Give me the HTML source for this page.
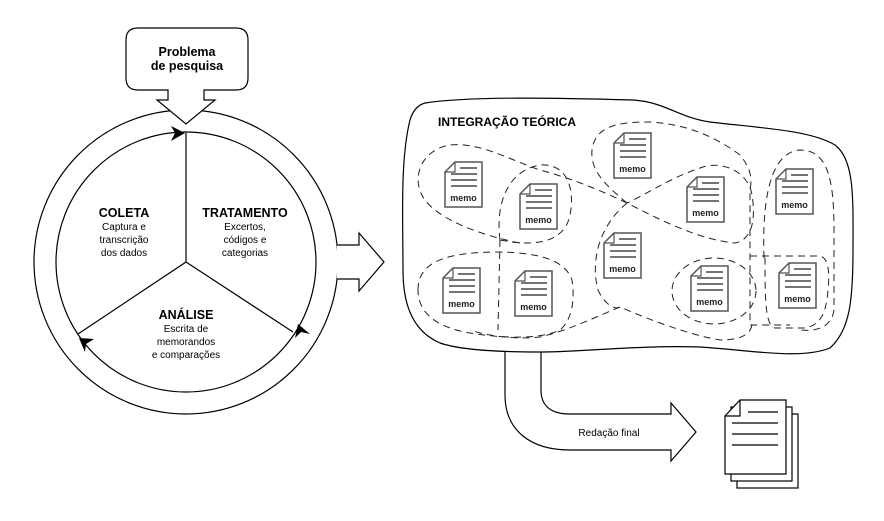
<!DOCTYPE html>
<html><head><meta charset="utf-8">
<style>
html,body{margin:0;padding:0;background:#fff;}
svg{display:block;font-family:"Liberation Sans",sans-serif;}
</style></head>
<body>
<svg width="884" height="521" viewBox="0 0 884 521" xmlns="http://www.w3.org/2000/svg">
<defs>
<g id="doc">
<path d="M10,0 H37 V45 H0 V10 Z" fill="#fff" stroke="#555" stroke-width="1.5"/>
<path d="M0,10 H10 V0" fill="none" stroke="#555" stroke-width="1.2"/>
<path d="M15,6 H32 M6,12 H32 M6,18 H32 M6,24 H32" stroke="#222" stroke-width="1.2"/>
</g>
</defs>

<!-- Outer ring -->
<circle cx="186" cy="262" r="152" fill="#fff" stroke="#000" stroke-width="1.2"/>
<!-- right arrow -->
<path d="M337,245 H359 V233 L384,262 L359,291 V279 H337" fill="#fff" stroke="#000" stroke-width="1.2"/>
<circle cx="186" cy="262" r="130" fill="#fff" stroke="#000" stroke-width="1.2"/>

<!-- Spokes -->
<path d="M186,133 V262 L78,334 M186,262 L293,332" stroke="#000" stroke-width="1.2" fill="none"/>
<!-- arrowheads -->
<path d="M185,133 L171,126 L175,133 L171,141 Z" fill="#000"/>
<path d="M298,324 L295,338 L301,332 L310,334 Z" fill="#000"/>
<path d="M79,338 L85,352 L86,344 L94,339 Z" fill="#000"/>

<!-- Problem box + arrow -->
<path d="M138,28 H236 Q248,28 248,40 V78 Q248,90 236,90 H204 V100 H215 L186,124 L157,100 H168 V90 H138 Q126,90 126,78 V40 Q126,28 138,28 Z" fill="#fff" stroke="#000" stroke-width="1.2"/>
<text x="187" y="56" font-size="12.5" font-weight="bold" text-anchor="middle">Problema</text>
<text x="187" y="70" font-size="12.5" font-weight="bold" text-anchor="middle">de pesquisa</text>

<!-- Circle labels -->
<g text-anchor="middle" font-size="10">
<text x="124" y="217" font-size="12.5" font-weight="bold">COLETA</text>
<text x="124" y="230">Captura e</text>
<text x="124" y="243">transcrição</text>
<text x="124" y="256">dos dados</text>
<text x="245" y="217" font-size="12.5" font-weight="bold">TRATAMENTO</text>
<text x="245" y="230">Excertos,</text>
<text x="245" y="243">códigos e</text>
<text x="245" y="256">categorias</text>
<text x="186" y="319" font-size="12.5" font-weight="bold">ANÁLISE</text>
<text x="186" y="332">Escrita de</text>
<text x="186" y="345">memorandos</text>
<text x="186" y="358">e comparações</text>
</g>

<!-- Bottom arrow -->
<path d="M505,350 V395 C505,430 530,450 570,450 H671 V461 L696,432 L671,403 V414 H570 C550,414 541,405 541,390 V350" fill="#fff" stroke="#000" stroke-width="1.2"/>
<text x="609" y="436" font-size="10" text-anchor="middle">Redação final</text>

<!-- Blob -->
<path d="M425,103 C470,96 560,98 633,100 C665,102 680,118 710,122 C760,128 810,130 835,145 C855,160 853,200 853,250 C853,300 850,330 830,348 C800,360 750,350 700,347 C640,345 580,352 540,352 C500,352 460,350 440,343 C410,330 403,300 403,270 C403,220 400,160 410,120 C413,110 418,105 425,103 Z" fill="#fff" stroke="#000" stroke-width="1.2"/>
<text x="438" y="126" font-size="12" font-weight="bold">INTEGRAÇÃO TEÓRICA</text>

<!-- dashed loops -->
<g fill="none" stroke="#222" stroke-width="1" stroke-dasharray="7,5">
<path d="M520,243 C480,235 440,220 425,200 C410,180 420,150 450,145 C480,142 510,160 540,170 C570,178 600,190 627,203 C660,220 700,240 735,243 C752,240 756,220 752,195 C748,170 720,160 700,168 C670,178 645,195 627,203"/>
<path d="M627,203 C605,185 590,170 592,150 C595,125 620,122 650,122 C690,124 720,140 740,155 C752,170 752,180 750,190 L750,325 L790,325"/>
<path d="M627,203 C600,225 590,260 598,290 C605,305 615,310 620,307 C650,320 690,335 720,340 C740,340 750,335 752,325"/>
<path d="M620,307 C600,315 570,330 540,337 C510,340 485,335 470,330"/>
<path d="M500,240 C495,200 510,170 540,165 C568,163 575,190 570,215 C565,240 540,248 500,240 Z M500,240 L498,330"/>
<path d="M418,290 C418,260 450,252 500,252 C540,253 565,260 572,280 C575,300 572,320 560,330 C540,340 500,338 470,333 C440,328 418,315 418,290 Z"/>
<ellipse cx="714" cy="291" rx="42" ry="33"/>
<path d="M750,256 L820,256 C828,258 830,270 828,290 C826,315 820,325 805,328 L775,328 C765,325 765,300 765,256"/>
<path d="M764,258 C762,200 770,152 800,150 C828,150 834,180 834,230 L834,310 C832,325 820,332 800,330"/>
</g>

<!-- memos -->
<g font-size="9" font-weight="bold" text-anchor="middle" fill="#222">
<g transform="translate(445,162)"><use href="#doc"/><text x="18.5" y="39">memo</text></g>
<g transform="translate(520,184)"><use href="#doc"/><text x="18.5" y="39">memo</text></g>
<g transform="translate(614,133)"><use href="#doc"/><text x="18.5" y="39">memo</text></g>
<g transform="translate(687,177)"><use href="#doc"/><text x="18.5" y="39">memo</text></g>
<g transform="translate(776,169)"><use href="#doc"/><text x="18.5" y="39">memo</text></g>
<g transform="translate(604,233)"><use href="#doc"/><text x="18.5" y="39">memo</text></g>
<g transform="translate(443,268)"><use href="#doc"/><text x="18.5" y="39">memo</text></g>
<g transform="translate(515,271)"><use href="#doc"/><text x="18.5" y="39">memo</text></g>
<g transform="translate(691,266)"><use href="#doc"/><text x="18.5" y="39">memo</text></g>
<g transform="translate(779,263)"><use href="#doc"/><text x="18.5" y="39">memo</text></g>
</g>

<!-- final document stack -->
<g stroke="#000" stroke-width="1.2" fill="#fff">
<rect x="737" y="414" width="61" height="74"/>
<rect x="731" y="407" width="61" height="74"/>
<path d="M740,400 H786 V474 H725 V416 Z"/>
<path d="M725,416 H740 V400" fill="none"/>
<path d="M748,412 H778 M732,423 H778 M732,434 H778 M732,445 H778" fill="none"/>
</g>
</svg>
</body></html>
